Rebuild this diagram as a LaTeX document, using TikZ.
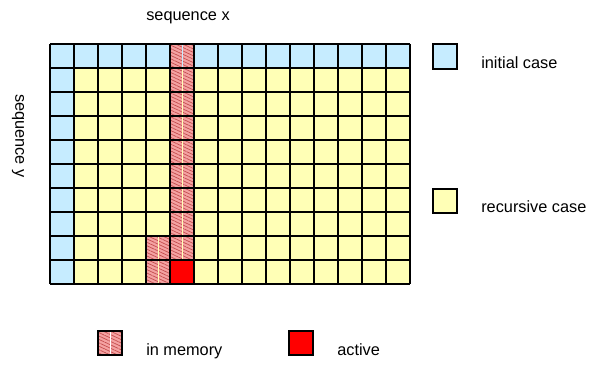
\documentclass[tikz,border=0pt]{standalone}
\usepackage{fontspec}
\setmainfont{Liberation Sans}
\usetikzlibrary{patterns.meta}
\definecolor{initblue}{RGB}{198,236,255}
\definecolor{recyellow}{RGB}{255,255,182}
\definecolor{mempink}{RGB}{244,162,162}
\definecolor{memhatch}{RGB}{196,78,78}
\definecolor{activered}{RGB}{255,0,0}
\tikzset{
  cell/.style={draw=black, line width=0.9pt},
  memfill/.style={fill=mempink, postaction={pattern={Lines[angle=-25,distance=2.2pt,line width=0.5pt]}, pattern color=memhatch}},
  lbl/.style={font=\fontsize{11.6}{13}\selectfont, inner sep=0pt},
}
% cell in memory: column, row, colour of the middle line
\def\memcell(#1,#2)#3{\fill[memfill] ({50+24*#1},{44+24*#2}) rectangle +(24,24);
  \draw[#3, line width=0.6pt] ({62+24*#1},{44+24*#2}) -- +(0,24);}

\begin{document}
\begin{tikzpicture}[x=0.025cm, y=-0.025cm]
		\useasboundingbox (0,0) rectangle (591,365);
		%%%%% TABLE %%%%%
		\fill[recyellow] (50,44) rectangle (410,284);
		\fill[initblue] (50,44) rectangle (410,68);
		\fill[initblue] (50,44) rectangle (74,284);
		
		\memcell(5,0){initblue}
		\foreach \r in {1,...,8} {\memcell(5,\r){recyellow}}
		\memcell(4,8){recyellow}
		\memcell(4,9){recyellow}
		\fill[activered] (170,260) rectangle (194,284);
		
		\foreach \i in {0,...,15} \draw[cell] ({50+24*\i},44) -- ({50+24*\i},284);
		\foreach \j in {0,...,10} \draw[cell] (50,{44+24*\j}) -- (410,{44+24*\j});
		
		\node[lbl, anchor=base] (seqx) at (188,21) {sequence x};
		\node[lbl, rotate=-90] (seqy) at (18,136) {sequence y};
		
		%%%%% LEGEND %%%%%
		\draw[cell, fill=initblue] (433,44) rectangle (457,69);
		\node[lbl, anchor=base west] (initial) at (481,69) {initial case};
		\draw[cell, fill=recyellow] (433,189) rectangle (457,213);
		\node[lbl, anchor=base west] (recursive) at (481,213) {recursive case};
		
		\fill[memfill] (98,331) rectangle (122,355);
		\draw[white, line width=0.6pt] (110,331) -- (110,355);
		\draw[cell] (98,331) rectangle (122,355);
		\node[lbl, anchor=base west] (memory) at (146,356) {in memory};
		\draw[cell, fill=activered] (289,331) rectangle (313,355);
		\node[lbl, anchor=base west] (active) at (337,356) {active};
\end{tikzpicture}
\end{document}
